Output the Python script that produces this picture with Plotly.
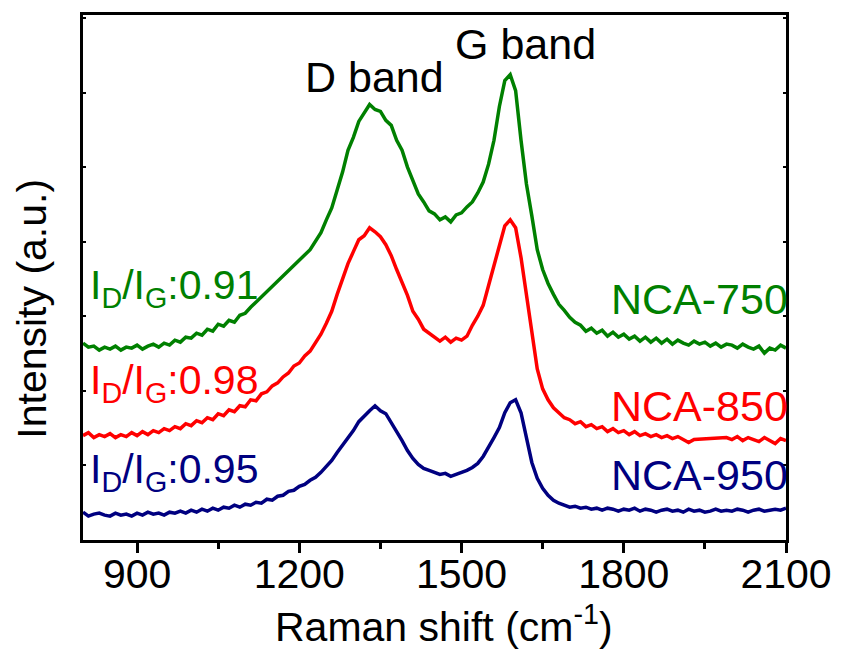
import plotly.graph_objects as go

# Raman shift sampling grid (cm^-1), 10 cm^-1 steps from 800 to 2100
raman_shift = list(range(800, 2101, 10))

# Intensities (a.u.) for each calcination temperature; None marks detector gaps
nca_750 = [
    198, 194, 195, 191, 194, 192, 195, 191, 194, 193,
    196, 192, 195, 197, 194, 198, 196, 201, 199, 204,
    203, 208, 206, 212, 210, 217, 215, 221, 219, 226,
    228, 234, None, None, None, None, None, None, None, None,
    None, None, 292, 301, 309, 322, 334, 352, 370, 392,
    405, 421, 430, 438, 433, 431, 422, 417, 402, 392,
    375, 362, 348, 340, 331, 328, 322, 325, 320, 327,
    329, 335, 340, 349, 360, 378, 402, 436, 462, 468,
    452, 402, 358, 326, 292, 272, 258, 247, 237, 231,
    224, 219, 216, 210, 213, 208, 211, 205, 209, 204,
    207, 202, 205, 200, 204, 199, 203, 198, 202, 197,
    201, 198, 196, 200, 197, 199, 195, 198, 194, 197,
    196, 193, 197, 194, 192, 195, 188, 193, 191, 196,
    193,
]

nca_850 = [
    105, 108, 103, 106, 104, 107, 103, 106, 104, 108,
    105, 109, 106, 110, 108, 112, 110, 114, 112, 117,
    115, 120, 118, 123, 121, 127, 125, 131, 129, 135,
    134, 141, 140, 147, 149, 155, 158, 164, 168, 175,
    178, 185, 190, 198, 207, 218, 230, 247, 262, 278,
    290, 302, 306, 314, 310, 305, 297, 286, 272, 259,
    246, 230, 222, 212, 208, 203, 200, 204, 199, 203,
    201, 205, 216, 225, 236, 256, 275, 296, 316, 322,
    314, 284, 245, 205, 172, 152, 141, 133, 128, 123,
    121, 117, 119, 114, 116, 112, 114, 109, 112, 108,
    110, 106, 109, 105, 107, 104, 106, 103, 105, 102,
    104, 101, 98, 101, None, None, None, None, None, 103,
    101, 104, 100, 103, 101, 99, 103, 100, 97, 102,
    100,
]

nca_950 = [
    28, 24, 26, 27, 25, 24, 27, 25, 26, 24,
    27, 25, 28, 26, 27, 25, 28, 27, 29, 27,
    30, 28, 31, 29, 32, 30, 33, 32, 35, 33,
    36, 35, 38, 37, 41, 40, 44, 45, 49, 50,
    54, 56, 60, 63, 68, 74, 80, 88, 95, 102,
    110, 119, 125, 130, 135, 130, 127, 118, 110, 100,
    90, 82, 76, 72, 70, 68, 66, 67, 64, 66,
    68, 70, 73, 77, 84, 93, 103, 113, 128, 138,
    141, 128, 103, 78, 62, 52, 45, 40, 37, 35,
    33, 34, 32, 33, 31, 32, 30, 32, 31, 29,
    31, 30, 32, 29, 31, 30, 28, 30, 31, 29,
    30, 28, 31, 29, 30, 28, 29, 31, 29, 30,
    29, 31, 30, 28, 30, 31, 29, 30, 31, 30,
    32,
]

sample_names = ["NCA-750", "NCA-850", "NCA-950"]
id_ig_ratios = ["0.91", "0.98", "0.95"]
line_colors = ["#008000", "#ff0000", "#000080"]

x_ticks = [900, 1200, 1500, 1800, 2100]

FONT = "Arial, Liberation Sans, sans-serif"

fig = go.Figure()
for name, values, color in zip(sample_names, [nca_750, nca_850, nca_950], line_colors):
    fig.add_trace(go.Scatter(
        x=raman_shift, y=values, mode="lines", name=name,
        line=dict(color=color, width=3.5), connectgaps=True,
    ))

# Sample names on the right, I_D/I_G ratios on the left
name_pos = [0.460, 0.255, 0.123]
ratio_pos = [0.480, 0.300, 0.130]
for name, ratio, color, ny, ry in zip(sample_names, id_ig_ratios, line_colors, name_pos, ratio_pos):
    fig.add_annotation(x=1.006, y=ny, xref="paper", yref="paper", xanchor="right",
                       yanchor="middle", text=name, showarrow=False,
                       font=dict(family=FONT, size=43, color=color))
    fig.add_annotation(x=0.007, y=ry, xref="paper", yref="paper", xanchor="left",
                       yanchor="middle", text=f"I<sub>D</sub>/I<sub>G</sub>:{ratio}",
                       showarrow=False, font=dict(family=FONT, size=41, color=color))

# Band labels
fig.add_annotation(x=0.414, y=0.881, xref="paper", yref="paper", xanchor="center",
                   yanchor="middle", text="D band", showarrow=False,
                   font=dict(family=FONT, size=43, color="black"))
fig.add_annotation(x=0.629, y=0.944, xref="paper", yref="paper", xanchor="center",
                   yanchor="middle", text="G band", showarrow=False,
                   font=dict(family=FONT, size=43, color="black"))

# Axis titles
fig.add_annotation(x=0.514, y=-0.16, xref="paper", yref="paper", xanchor="center",
                   yanchor="middle", text="Raman shift (cm<sup>-1</sup>)", showarrow=False,
                   font=dict(family=FONT, size=41, color="black"))
fig.add_annotation(x=-0.073, y=0.44, xref="paper", yref="paper", xanchor="center",
                   yanchor="middle", text="Intensity (a.u.)", textangle=-90,
                   showarrow=False, font=dict(family=FONT, size=41, color="black"))

fig.update_layout(
    width=844, height=654,
    margin=dict(l=83, r=55, t=12, b=114),
    paper_bgcolor="white", plot_bgcolor="white",
    showlegend=False,
    font=dict(family=FONT, color="black"),
    xaxis=dict(
        range=[800, 2100], tickvals=x_ticks, ticks="outside", ticklen=10,
        tickwidth=3, tickcolor="black", showline=True, linewidth=3,
        linecolor="black", mirror=True, showgrid=False, zeroline=False,
        ticklabelstandoff=-14,
        tickfont=dict(family=FONT, size=41, color="black"),
        minor=dict(tickvals=[1050, 1350, 1650, 1950], ticks="outside",
                   ticklen=6, tickwidth=3, tickcolor="black"),
    ),
    yaxis=dict(
        range=[0, 528], showticklabels=False, ticks="inside", ticklen=3,
        tickwidth=2, tickcolor="black", dtick=75, showline=True, linewidth=3,
        linecolor="black", mirror="ticks", showgrid=False, zeroline=False,
    ),
)

fig.write_html("out.html")
